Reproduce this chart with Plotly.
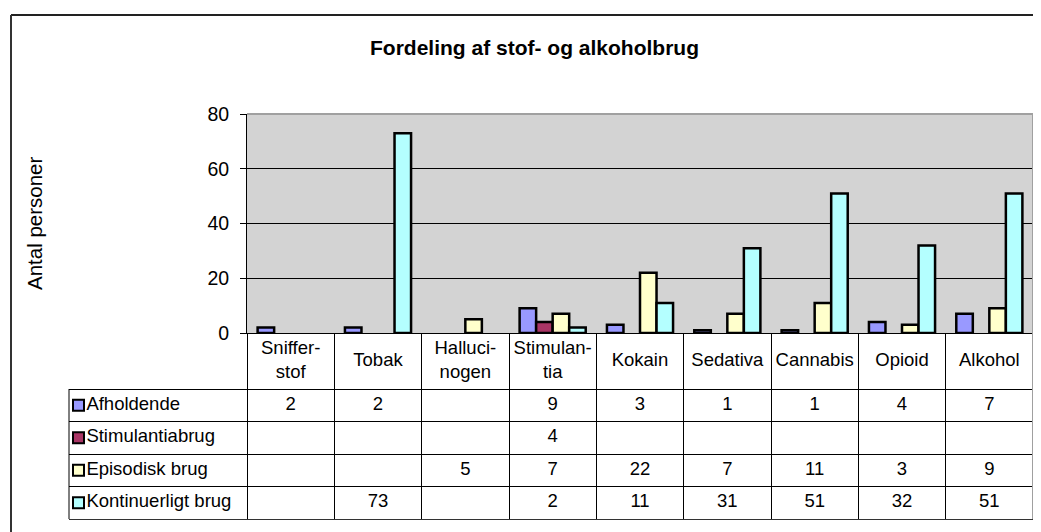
import plotly.graph_objects as go

# ---------------- data ----------------
categories = ["Sniffer-<br>stof", "Tobak", "Halluci-<br>nogen", "Stimulan-<br>tia",
              "Kokain", "Sedativa", "Cannabis", "Opioid", "Alkohol"]
series_names = ["Afholdende", "Stimulantiabrug", "Episodisk brug", "Kontinuerligt brug"]
afholdende = [2, 2, None, 9, 3, 1, 1, 4, 7]
stimulantiabrug = [None, None, None, 4, None, None, None, None, None]
episodisk_brug = [None, None, 5, 7, 22, 7, 11, 3, 9]
kontinuerligt_brug = [None, 73, None, 2, 11, 31, 51, 32, 51]
y_ticks = [0, 20, 40, 60, 80]
title_text = "Fordeling af stof- og alkoholbrug"
y_title = "Antal personer"

series_values = [afholdende, stimulantiabrug, episodisk_brug, kontinuerligt_brug]
colors = ["#9999FF", "#A93565", "#FFFFCC", "#B4FFFF"]

# ---------------- layout geometry (page pixels) ----------------
OFF = 8                                   # default page body margin
W, H = 1041 - OFF, 532 - OFF
PL, PR, PT, PB = 247, 1033, 114, 333      # plot area
TL, TB, HB = 69, 519, 389                 # table left, bottom, header bottom
FONT = "Liberation Sans, Arial, sans-serif"


def px(x):
    return (x - OFF) / W


def py(y):
    return 1 - (y - OFF) / H


n = len(categories)
cat_w = (PR - PL) / n
left_units = (PL - TL) / cat_w
row_h = (TB - HB) / 4
header_units = (HB - PB) / row_h
x2_left = -0.5 - left_units
idx = list(range(n))

fig = go.Figure()

# bars
for name, vals, col in zip(series_names, series_values, colors):
    fig.add_trace(go.Bar(
        x=idx, y=vals, name=name, marker=dict(color=col, line=dict(color="black", width=2.5)),
        showlegend=False, xaxis="x", yaxis="y", hoverinfo="skip"))

# table: header text
fig.add_trace(go.Scatter(
    x=idx, y=[4 + header_units / 2] * n, text=categories, mode="text",
    textfont=dict(family=FONT, size=18.5, color="black"), textposition="middle center",
    xaxis="x2", yaxis="y2", showlegend=False, hoverinfo="skip"))

# table: values
for r, vals in enumerate(series_values):
    yrow = 3.5 - r
    xs = [i for i, v in enumerate(vals) if v is not None]
    ts = [str(v) for v in vals if v is not None]
    fig.add_trace(go.Scatter(
        x=xs, y=[yrow] * len(xs), text=ts, mode="text",
        textfont=dict(family=FONT, size=18.5, color="black"), textposition="middle center",
        xaxis="x2", yaxis="y2", showlegend=False, hoverinfo="skip"))

# table: row labels with legend keys
fig.add_trace(go.Scatter(
    x=[x2_left + 9.5 / cat_w] * 4, y=[3.5 - r for r in range(4)], text=series_names,
    mode="markers+text", textposition="middle right",
    marker=dict(symbol="square", size=11, color=colors, line=dict(color="black", width=2)),
    textfont=dict(family=FONT, size=18.5, color="black"),
    xaxis="x2", yaxis="y2", showlegend=False, hoverinfo="skip", cliponaxis=False))

shapes = [
    dict(type="rect", xref="x domain", yref="y domain", x0=0, x1=1, y0=0, y1=1,
         fillcolor="#D3D3D3", line=dict(width=0), layer="below"),
    dict(type="line", xref="x domain", yref="y domain", x0=0, x1=1, y0=1, y1=1,
         line=dict(color="#A0A0A0", width=2)),
    dict(type="line", xref="x domain", yref="y domain", x0=1, x1=1, y0=0, y1=1,
         line=dict(color="#A0A0A0", width=2)),
    dict(type="line", xref="x2 domain", yref="y2 domain", x0=1, x1=1, y0=0, y1=1,
         line=dict(color="#A0A0A0", width=2)),
    dict(type="line", xref="x2 domain", yref="y2", x0=0, x1=0, y0=0, y1=4,
         line=dict(color="black", width=1)),
    # outer chart frame: only its top and left edges fall inside the picture
    dict(type="line", xref="paper", yref="paper", x0=px(11), x1=px(1060), y0=py(15), y1=py(15),
         line=dict(color="#222222", width=2)),
    dict(type="line", xref="paper", yref="paper", x0=px(11), x1=px(11), y0=py(15), y1=py(560),
         line=dict(color="#333333", width=2)),
]

fig.update_layout(
    width=W, height=H, margin=dict(l=0, r=0, t=0, b=0, pad=0, autoexpand=False),
    paper_bgcolor="white", plot_bgcolor="rgba(0,0,0,0)",
    font=dict(family=FONT, color="black"),
    showlegend=False,
    barmode="group", bargap=0.243, bargroupgap=0,
    xaxis=dict(domain=[px(PL), px(PR)], range=[-0.5, n - 0.5], showticklabels=False,
               showgrid=False, zeroline=False, showline=True, linecolor="black", linewidth=1,
               ticks="", anchor="y", fixedrange=True, automargin=False),
    yaxis=dict(domain=[py(PB), py(PT)], range=[0, 80], tickvals=y_ticks,
               showgrid=True, gridcolor="black", gridwidth=1, zeroline=False,
               showline=True, linecolor="black", linewidth=1, ticks="outside", ticklen=6,
               tickcolor="black", tickfont=dict(size=19.5, family=FONT), anchor="x",
               ticklabelstandoff=7, fixedrange=True, automargin=False),
    xaxis2=dict(domain=[px(TL), px(PR)], range=[x2_left, n - 0.5],
                tickvals=[i - 0.5 for i in range(n)], showticklabels=False, ticks="",
                showgrid=True, gridcolor="black", gridwidth=1, zeroline=False,
                showline=True, linecolor="#333333", linewidth=1, anchor="y2", fixedrange=True,
                automargin=False),
    yaxis2=dict(domain=[py(TB), py(PB)], range=[0, 4 + header_units],
                tickvals=[1, 2, 3, 4], showticklabels=False, ticks="",
                showgrid=True, gridcolor="black", gridwidth=1, zeroline=False,
                showline=False, anchor="x2", fixedrange=True, automargin=False),
    shapes=shapes,
    annotations=[
        dict(text="<b>" + title_text + "</b>", xref="paper", yref="paper", x=px(534), y=py(47),
             showarrow=False, font=dict(size=21, family=FONT), xanchor="center", yanchor="middle"),
        dict(text=y_title, xref="paper", yref="paper", x=px(35), y=py(223), textangle=-90,
             showarrow=False, font=dict(size=20.5, family=FONT), xanchor="center", yanchor="middle"),
    ],
)

fig.write_html("out.html", post_script="document.body.style.overflow = 'hidden';")
